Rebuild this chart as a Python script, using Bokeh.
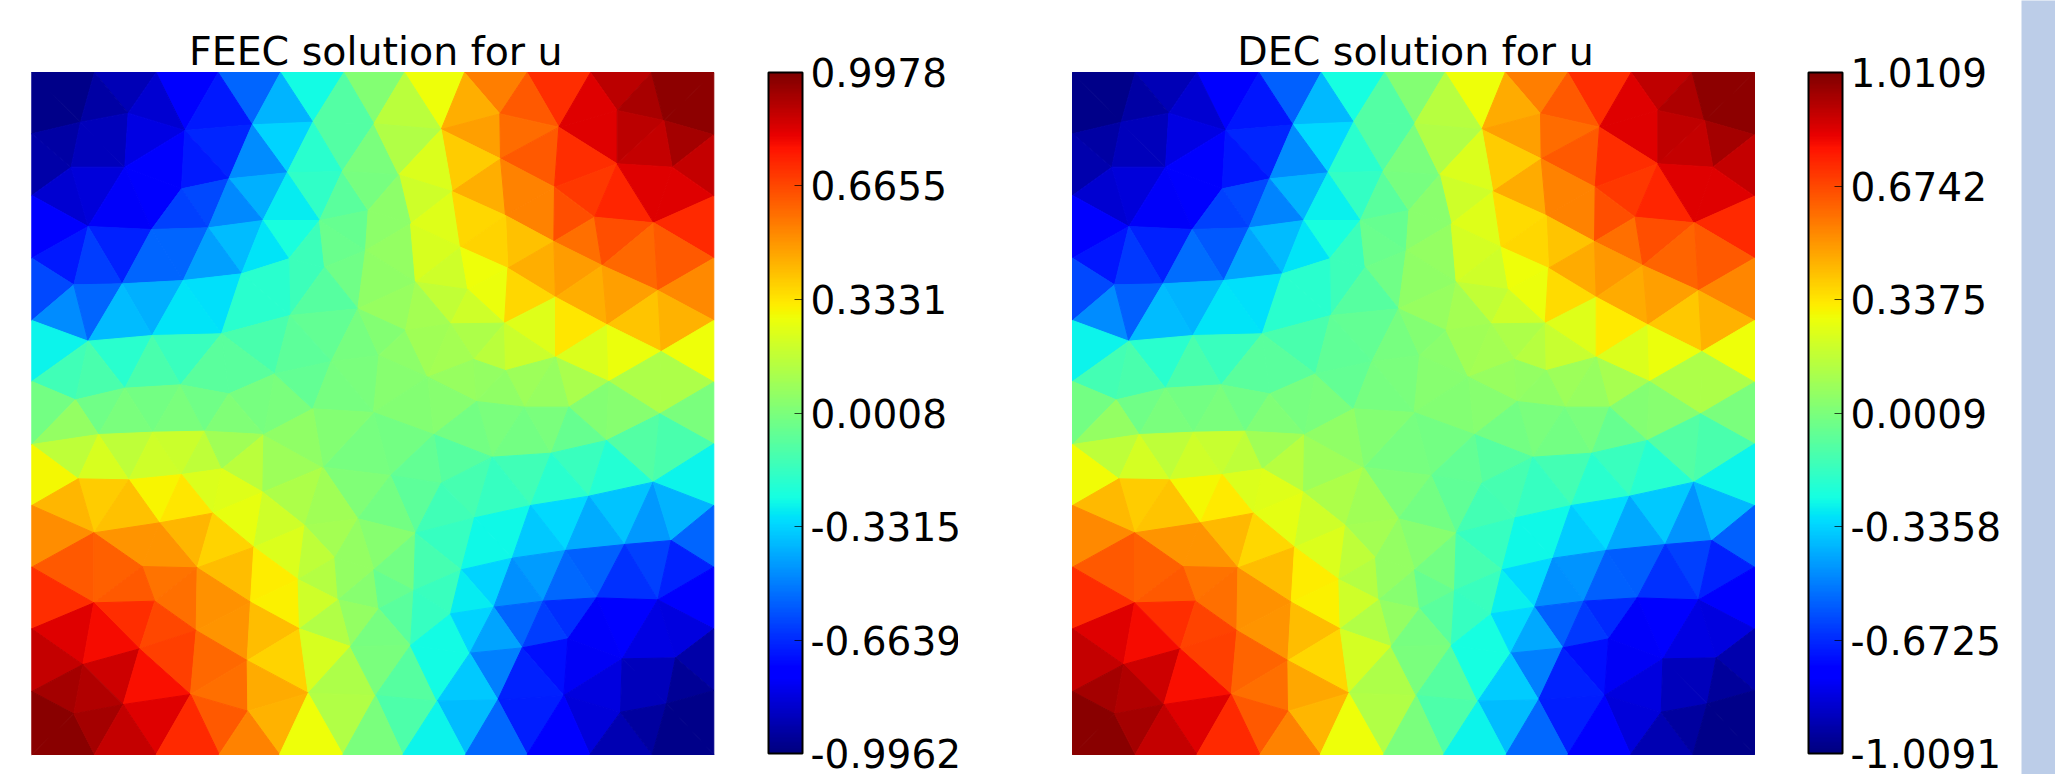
import math
from bokeh.plotting import figure
from bokeh.embed import file_html
from bokeh.resources import INLINE
from bokeh.models import Range1d, ColumnDataSource, LinearColorMapper, ColorBar, FixedTicker, PrintfTickFormatter, Label, AllLabels
from bokeh.layouts import row

TITLES = ["FEEC solution for u", "DEC solution for u"]
FEEC_TICKS = [0.9978, 0.6655, 0.3331, 0.0008, -0.3315, -0.6639, -0.9962]
DEC_TICKS = [1.0109, 0.6742, 0.3375, 0.0009, -0.3358, -0.6725, -1.0091]

NODES_TL = [(19,21),(207,21),(392,21),(578,21),(765,21),(955,21),(19,205),(19,390),(19,578),(19,765),(19,948),
(165,170),(308,143),(478,195),(680,178),(862,170),(1045,175),
(137,305),(298,305),(468,370),(610,340),(785,322),(950,318),
(188,483),(378,492),(548,487),(712,465),(882,465),(1028,435),
(145,658),(290,655),(473,645),(648,625),(790,580),(897,605),(1020,555),
(188,827),(380,810),(588,805),(793,750),(997,730),
(150,1003),(298,968),(465,958),(610,985),(748,925),(917,888)]
NODES_TR = [(102,21),(282,21),(470,21),(660,21),(843,21),(1030,21),(1030,208),(1030,392),(1030,578),(1030,765),(1030,950),
(10,175),(212,192),(388,145),(565,185),(740,135),(880,165),
(85,328),(390,280),(552,365),(740,295),(905,305),
(245,378),(405,450),(672,455),(850,472),
(120,475),(270,545),(550,528),(695,600),(862,675),
(135,650),(292,672),(412,608),(555,695),(710,778),(872,858),
(105,795),(240,775),(402,773),(555,875),(715,948),(868,1045),
(25,870),(172,935),(310,882),(405,915),(595,1025),(318,1008),(462,1025),(9,1041)]
NODES_BL = [(19,102),(19,285),(19,470),(19,655),(19,843),(19,1030),(207,1030),(392,1030),(581,1030),(762,1030),(952,1030),
(219,72),(382,65),(538,62),(715,72),(892,170),
(158,205),(310,208),(468,192),(590,175),(712,245),
(205,367),(402,337),(562,308),(838,345),(997,325),
(350,468),(515,472),(685,410),(928,442),
(205,577),(388,572),(675,575),(818,507),(1045,478),
(512,660),(822,655),(938,568),
(172,762),(342,715),(665,750),(975,708),
(293,882),(495,852),(848,848),(1050,855),
(145,910),(667,902)]
NODES_BR = [(1030,100),(1030,285),(1030,470),(1030,655),(1030,840),(1030,1030),(97,1030),(285,1030),(470,1030),(658,1030),(845,1030),
(190,72),(365,140),(542,128),(708,90),(862,10),
(60,195),(212,218),(480,285),(655,257),(848,215),
(135,368),(312,322),(585,420),(762,402),(902,390),
(272,478),(425,443),(518,572),(678,562),(862,568),
(130,540),(370,590),
(25,595),(240,610),(455,712),(592,685),
(120,705),(298,728),(755,745),(915,742),
(15,855),(200,872),(382,868),(580,855),(750,905),(888,880)]
NODE_LATE = (25, 65, 862, 1030)

# cell values of u, one per triangle (row by row); the last five are the cells round the late node
FEEC_U = [
-0.98,-0.90,-0.77,-0.55,-0.25,0.02,0.28,0.55,0.72,0.89,0.92,0.97,-0.98,-0.93,-0.85,-0.70,-0.39,-0.10,0.15,0.45,0.63,0.83,0.97,
-0.93,-0.89,-0.82,-0.33,-0.10,0.48,0.59,0.83,0.89,0.93,-0.89,-0.77,-0.67,-0.47,-0.20,0.00,0.13,0.39,0.63,0.72,0.88,-0.92,-0.70,0.23,0.88,
-0.85,-0.84,-0.76,-0.60,-0.40,-0.18,-0.08,-0.01,0.20,0.45,0.54,0.70,0.74,0.83,0.83,-0.78,-0.62,-0.48,-0.28,0.04,0.24,0.36,0.54,0.65,
-0.77,-0.38,-0.24,-0.05,0.04,0.41,0.58,0.65,0.73,-0.70,-0.68,-0.55,-0.43,-0.30,-0.15,-0.04,0.06,0.22,0.37,0.60,0.63,-0.63,-0.55,
-0.15,-0.03,0.05,0.20,0.28,0.45,0.49,-0.60,-0.40,-0.31,-0.20,-0.09,0.17,0.27,0.36,0.45,0.48,0.53,-0.47,-0.55,-0.38,-0.30,-0.20,
0.07,0.10,0.20,0.40,0.44,-0.12,-0.06,-0.01,0.02,0.12,0.24,0.33,-0.27,-0.20,-0.16,-0.07,0.04,0.09,0.10,0.15,0.19,0.23,0.27,0.28,
-0.14,-0.12,-0.12,-0.08,-0.08,0.00,0.03,0.07,0.06,0.08,0.11,0.12,-0.02,-0.01,0.00,0.05,0.07,0.12,-0.02,-0.03,0.00,0.00,-0.03,0.01,0.00,0.00,
0.02,0.03,0.00,0.02,0.03,0.00,0.06,-0.02,-0.02,-0.02,0.00,-0.05,0.16,0.16,0.20,0.19,0.16,0.09,-0.01,-0.09,-0.10,-0.12,
0.29,0.22,0.15,0.08,-0.06,-0.14,-0.16,-0.21,-0.27,0.39,0.30,0.23,0.24,0.12,0.01,-0.07,-0.13,-0.17,-0.20,
0.43,0.41,0.33,0.26,0.20,0.09,-0.02,-0.14,-0.32,-0.36,-0.45,-0.39,0.52,0.50,0.43,0.10,0.03,-0.17,-0.26,-0.35,-0.41,-0.55,
0.50,0.37,0.23,0.16,0.06,-0.26,-0.62,0.63,0.61,0.57,0.42,0.32,0.14,0.06,-0.02,-0.13,-0.33,-0.44,-0.56,-0.65,-0.68,
0.72,0.63,0.58,0.51,0.03,-0.05,-0.16,-0.28,-0.46,-0.54,-0.77,0.72,0.31,0.20,0.06,-0.08,-0.17,-0.55,-0.66,-0.77,
0.83,0.79,0.67,0.50,0.42,0.13,-0.01,-0.25,-0.33,-0.42,-0.63,-0.78,-0.82,-0.83,0.88,0.68,0.60,0.37,0.22,-0.72,-0.92,
0.86,0.12,0.00,-0.09,-0.25,-0.49,-0.68,-0.79,-0.89,0.93,0.91,0.78,0.58,0.46,-0.35,-0.83,-0.89,-0.95,
0.98,0.83,0.63,0.44,0.13,-0.11,-0.38,-0.69,-0.84,-0.98,0.98,0.93,0.88,0.73,0.54,0.28,0.00,-0.27,-0.54,-0.77,-0.91,-0.94,-0.98,
0.00,-0.06,-0.01,0.02,0.05]
DEC_U = [
-0.99,-0.91,-0.78,-0.56,-0.25,0.02,0.28,0.56,0.73,0.90,0.93,0.98,-0.99,-0.94,-0.86,-0.71,-0.39,-0.10,0.15,0.46,0.64,0.84,0.98,
-0.94,-0.90,-0.83,-0.33,-0.10,0.49,0.60,0.84,0.90,0.94,-0.90,-0.78,-0.68,-0.48,-0.20,0.00,0.13,0.39,0.64,0.73,0.89,-0.93,-0.71,0.23,0.89,
-0.86,-0.85,-0.77,-0.61,-0.40,-0.18,-0.08,-0.01,0.20,0.46,0.55,0.71,0.75,0.84,0.84,-0.79,-0.63,-0.49,-0.28,0.04,0.24,0.36,0.55,0.66,
-0.78,-0.38,-0.24,-0.05,0.04,0.41,0.59,0.66,0.74,-0.71,-0.69,-0.58,-0.43,-0.30,-0.15,-0.04,0.06,0.22,0.37,0.61,0.64,-0.64,-0.54,
-0.15,-0.03,0.05,0.20,0.28,0.46,0.50,-0.61,-0.40,-0.31,-0.20,-0.09,0.17,0.27,0.36,0.46,0.49,0.54,-0.48,-0.56,-0.38,-0.30,-0.20,
0.07,0.10,0.20,0.40,0.45,-0.12,-0.06,-0.01,0.02,0.12,0.24,0.33,-0.27,-0.20,-0.16,-0.07,0.04,0.09,0.10,0.15,0.19,0.23,0.27,0.28,
-0.14,-0.12,-0.12,-0.08,-0.08,0.00,0.03,0.07,0.06,0.08,0.11,0.12,-0.02,-0.01,0.00,0.05,0.07,0.12,-0.02,-0.03,0.00,0.00,-0.03,0.01,0.00,0.00,
0.02,0.03,0.00,0.02,0.03,0.00,0.06,-0.02,-0.02,-0.02,0.00,-0.05,0.16,0.16,0.20,0.19,0.16,0.09,-0.01,-0.09,-0.10,-0.12,
0.29,0.22,0.15,0.08,-0.06,-0.14,-0.16,-0.21,-0.27,0.39,0.30,0.23,0.24,0.12,0.01,-0.07,-0.13,-0.17,-0.20,
0.43,0.41,0.33,0.26,0.20,0.09,-0.02,-0.14,-0.32,-0.36,-0.46,-0.39,0.53,0.51,0.43,0.10,0.03,-0.17,-0.26,-0.35,-0.42,-0.56,
0.51,0.37,0.23,0.16,0.06,-0.26,-0.63,0.64,0.62,0.58,0.42,0.32,0.14,0.06,-0.02,-0.13,-0.33,-0.46,-0.57,-0.66,-0.69,
0.73,0.64,0.59,0.52,0.03,-0.05,-0.16,-0.28,-0.47,-0.56,-0.78,0.73,0.31,0.20,0.06,-0.08,-0.17,-0.56,-0.67,-0.78,
0.84,0.80,0.68,0.51,0.42,0.13,-0.01,-0.25,-0.33,-0.42,-0.64,-0.79,-0.83,-0.84,0.89,0.69,0.61,0.37,0.22,-0.73,-0.93,
0.87,0.12,0.00,-0.09,-0.25,-0.50,-0.69,-0.80,-0.90,0.94,0.92,0.79,0.59,0.47,-0.35,-0.84,-0.90,-0.96,
0.99,0.84,0.64,0.44,0.13,-0.11,-0.38,-0.70,-0.85,-0.99,0.99,0.94,0.89,0.74,0.55,0.28,0.00,-0.27,-0.55,-0.78,-0.92,-0.95,-0.99,
0.00,-0.06,-0.01,0.02,0.05]

def jet(t):
    def lin(xs, ys):
        for i in range(len(xs) - 1):
            if t <= xs[i + 1]:
                return ys[i] + (ys[i + 1] - ys[i]) * (t - xs[i]) / (xs[i + 1] - xs[i])
        return ys[-1]
    r = lin([0, .35, .66, .89, 1], [0, 0, 1, 1, .5])
    g = lin([0, .125, .375, .64, .91, 1], [0, 0, 1, 1, 0, 0])
    b = lin([0, .11, .34, .65, 1], [.5, 1, 1, 0, 0])
    return "#%02x%02x%02x" % (round(r * 255), round(g * 255), round(b * 255))
JET = [jet(i / 255) for i in range(256)]

def to_mesh(ox, oy, zx, zy):
    x = ox + zx / 3 - 31.3
    y = oy + zy / 3 - 72
    x = 0 if x < 7 else (682 if x > 675 else x)
    y = 0 if y < 7 else (682 if y > 675 else y)
    return x, y

pts = []
for Z, ox, oy in ((NODES_TL, 25, 65), (NODES_TR, 370, 65), (NODES_BL, 25, 410), (NODES_BR, 370, 410)):
    for zx, zy in Z:
        x, y = to_mesh(ox, oy, zx, zy)
        if all((x - a) ** 2 + (y - b) ** 2 > 144 for a, b in pts):
            pts.append((x, y))

def incircle(Q, t, p):
    a, b, c = [Q[i] for i in t]
    ax, ay = a[0] - p[0], a[1] - p[1]
    bx, by = b[0] - p[0], b[1] - p[1]
    cx, cy = c[0] - p[0], c[1] - p[1]
    d = (ax*ax + ay*ay) * (bx*cy - cx*by) - (bx*bx + by*by) * (ax*cy - cx*ay) + (cx*cx + cy*cy) * (ax*by - bx*ay)
    o = (b[0] - a[0]) * (c[1] - a[1]) - (b[1] - a[1]) * (c[0] - a[0])
    return d * o > 0

def hole_edges(bad):
    E = {}
    for t in bad:
        for e in ((t[0], t[1]), (t[1], t[2]), (t[2], t[0])):
            k = tuple(sorted(e))
            E[k] = E.get(k, 0) + 1
    return [k for k, v in E.items() if v == 1]

def delaunay(P):
    n = len(P)
    Q = P + [(-1e5, -1e5), (1e5, -1e5), (0, 1e5)]
    T = [(n, n + 1, n + 2)]
    for i in range(n):
        bad = [t for t in T if incircle(Q, t, Q[i])]
        T = [t for t in T if t not in bad]
        T += [(k[0], k[1], i) for k in hole_edges(bad)]
    out = []
    for t in T:
        if max(t) >= n:
            continue
        a, b, c = [P[i] for i in t]
        if abs((b[0] - a[0]) * (c[1] - a[1]) - (b[1] - a[1]) * (c[0] - a[0])) < 5:
            continue
        out.append(t)
    out.sort(key=lambda t: (round(sum(P[i][1] for i in t) / 3 / 20), sum(P[i][0] for i in t)))
    return out

tri = delaunay(pts)
late = to_mesh(*NODE_LATE)
bad_k = [k for k, t in enumerate(tri) if incircle(pts, t, late)]
pts.append(late)
il = len(pts) - 1
fan = [(k[0], k[1], il) for k in hole_edges([tri[k] for k in bad_k])]
def fan_angle(t):
    return math.atan2(sum(pts[i][1] for i in t) / 3 - late[1], sum(pts[i][0] for i in t) / 3 - late[0])
fan.sort(key=fan_angle)
keep = [k for k in range(len(tri)) if k not in bad_k]
cells = [tri[k] for k in keep] + fan
order = keep + list(range(len(tri), len(tri) + len(fan)))
if len(FEEC_U) != len(order) + len(bad_k) or len(DEC_U) != len(FEEC_U):
    raise SystemExit(f"bad lengths {len(FEEC_U)} {len(DEC_U)} {len(order)} {bad_k}")

def panel(title, u, ticks, width, left, bar_x, tx):
    src = ColumnDataSource(dict(
        xs=[[pts[i][0] for i in t] for t in cells],
        ys=[[pts[i][1] for i in t] for t in cells],
        u=[u[k] for k in order]))
    mapper = LinearColorMapper(palette=JET, low=ticks[-1], high=ticks[0])
    p = figure(width=width, height=774, output_backend="svg", toolbar_location=None,
               x_range=Range1d(-left, width - left), y_range=Range1d(702, -72), min_border=0)
    p.axis.visible = False
    p.grid.visible = False
    p.outline_line_color = None
    p.patches("xs", "ys", source=src, fill_color={"field": "u", "transform": mapper},
              line_color={"field": "u", "transform": mapper}, line_width=1)
    p.add_layout(Label(x=tx, y=-22, text=title, text_font="DejaVu Sans", text_font_size="39.5px",
                       text_align="center", text_baseline="middle", text_color="black"))
    cb = ColorBar(color_mapper=mapper, location=(bar_x, 21), width=34, height=681, padding=0, margin=0,
                  ticker=FixedTicker(ticks=ticks), formatter=PrintfTickFormatter(format="%.4f"),
                  major_label_policy=AllLabels(),
                  major_label_text_font="DejaVu Sans", major_label_text_font_size="39px",
                  major_label_text_color="black", label_standoff=8,
                  major_tick_in=8, major_tick_out=0, major_tick_line_color="black", major_tick_line_width=1,
                  major_tick_line_alpha=0.7, minor_tick_line_color=None,
                  bar_line_color="black", bar_line_width=2, border_line_color=None, background_fill_color=None)
    p.add_layout(cb, "center")
    return p

p1 = panel(TITLES[0], FEEC_U, FEEC_TICKS, 958, 31.3, 768, 344)
p2 = panel(TITLES[1], DEC_U, DEC_TICKS, 1063, 114, 850, 343)
p3 = figure(width=34, height=774, output_backend="svg", toolbar_location=None, min_border=0,
            x_range=Range1d(0, 1), y_range=Range1d(0, 1))
p3.axis.visible = False
p3.grid.visible = False
p3.outline_line_color = None
p3.background_fill_color = "#bccde8"
p3.border_fill_color = "#bccde8"
open("out.html", "w").write(file_html(row(p1, p2, p3, spacing=0), INLINE))
